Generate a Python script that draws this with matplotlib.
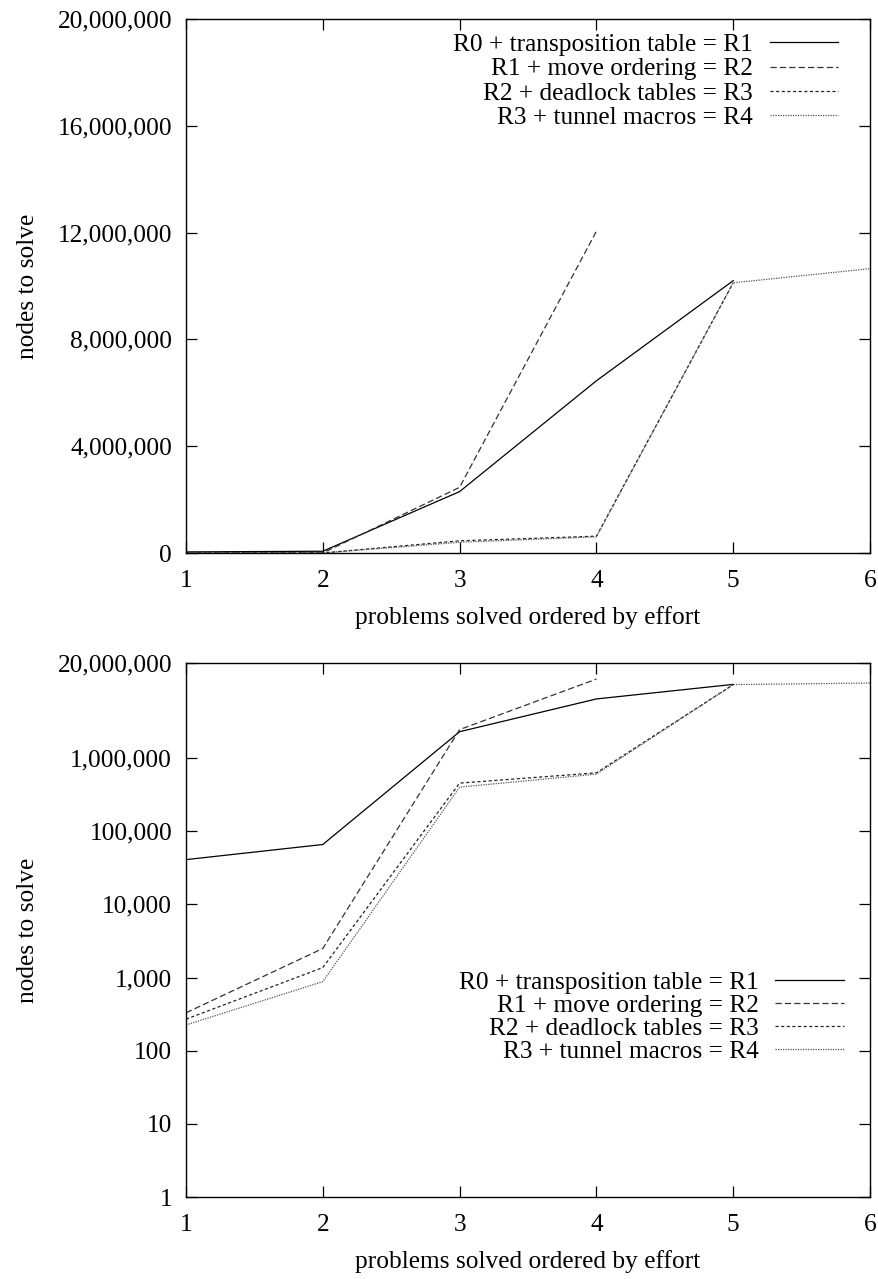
import matplotlib
matplotlib.use("Agg")
import matplotlib.pyplot as plt
from matplotlib.ticker import FuncFormatter, FixedLocator, NullLocator

plt.rcParams['font.family'] = ['Liberation Serif', 'DejaVu Serif']

labels = ["R0 + transposition table = R1",
          "R1 + move ordering = R2",
          "R2 + deadlock tables = R3",
          "R3 + tunnel macros = R4"]
x_r1 = [1, 2, 3, 4, 5]
r1 = [41000, 66000, 2300000, 6450000, 10200000]
x_r2 = [1, 2, 3, 4]
r2 = [330, 2500, 2460000, 12050000]
x_r3 = [1, 2, 3, 4, 5]
r3 = [270, 1370, 456000, 630000, 10120000]
x_r4 = [1, 2, 3, 4, 5, 6]
r4 = [225, 880, 402000, 605000, 10120000, 10650000]

xticks = [1, 2, 3, 4, 5, 6]
lin_yticks = [0, 4000000, 8000000, 12000000, 16000000, 20000000]
log_yticks = [1, 10, 100, 1000, 10000, 100000, 1000000, 20000000]

styles = [dict(color='black', linestyle='-', lw=0.9),
          dict(color='#333333', linestyle=(0, (5, 2.5)), lw=0.9),
          dict(color='#222222', linestyle=(0, (2.5, 2)), lw=0.9),
          dict(color='#555555', linestyle=(0, (1, 1)), lw=0.9)]

series = [(x_r1, r1), (x_r2, r2), (x_r3, r3), (x_r4, r4)]

fig = plt.figure(figsize=(8.79, 12.79), dpi=100)
ax1 = fig.add_axes([186/879, 1-553/1279, 684/879, 534/1279])
ax2 = fig.add_axes([186/879, 1-1197/1279, 684/879, 534/1279])

fmt = FuncFormatter(lambda v, p: f"{int(round(v)):,}")
fs = 18.3

for ax, log in [(ax1, False), (ax2, True)]:
    for (xs, ys), st, lab in zip(series, styles, labels):
        ax.plot(xs, ys, label=lab, **st)
    ax.set_xlim(1, 6)
    if log:
        ax.set_yscale('log')
        ax.set_ylim(1, 20000000)
        ax.yaxis.set_major_locator(FixedLocator(log_yticks))
        ax.yaxis.set_minor_locator(NullLocator())
    else:
        ax.set_ylim(0, 20000000)
        ax.yaxis.set_major_locator(FixedLocator(lin_yticks))
    ax.yaxis.set_major_formatter(fmt)
    ax.xaxis.set_major_locator(FixedLocator(xticks))
    ax.tick_params(direction='in', length=8, width=0.9, top=True, right=True,
                   labelsize=fs)
    ax.tick_params(axis='y', pad=10)
    ax.tick_params(axis='x', pad=12)
    for s in ax.spines.values():
        s.set_linewidth(1.0)
    ax.set_xlabel("problems solved ordered by effort", fontsize=fs, labelpad=10)
    ax.set_ylabel("nodes to solve", fontsize=fs, labelpad=13)
    if log:
        leg = ax.legend(loc='lower right', bbox_to_anchor=(0.98, 0.228),
                        frameon=False, markerfirst=False, fontsize=fs,
                        handlelength=2.7, handletextpad=0.65, labelspacing=0.0,
                        borderpad=0)
    else:
        leg = ax.legend(loc='upper right', bbox_to_anchor=(0.972, 0.997),
                        frameon=False, markerfirst=False, fontsize=fs,
                        handlelength=2.7, handletextpad=0.65, labelspacing=0.06,
                        borderpad=0)

fig.savefig("out.png", dpi=100)
